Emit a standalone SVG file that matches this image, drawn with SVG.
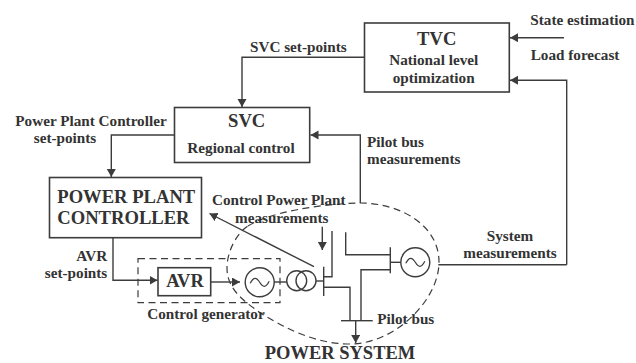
<svg xmlns="http://www.w3.org/2000/svg" width="636" height="363" viewBox="0 0 636 363">
<style>
text{font-family:"Liberation Serif","Times New Roman",serif;font-weight:bold;fill:#333;font-size:15.2px}
.m{text-anchor:middle}
.e{text-anchor:end}
.big{font-size:18.600px}
.h{font-size:18.500px}
.box{fill:#fff;stroke:#3c3c3c;stroke-width:1.6}
.ln{fill:none;stroke:#3c3c3c;stroke-width:1.4}
.ar{marker-end:url(#ah)}
.d{fill:none;stroke:#3c3c3c;stroke-width:1.2;stroke-dasharray:7 4.5}
</style>
<defs>
<marker id="ah" markerUnits="userSpaceOnUse" markerWidth="9" markerHeight="10" refX="8" refY="4.5" orient="auto"><path d="M0,0L8,4.5L0,9Z" fill="#3c3c3c"/></marker>
<path id="sine" d="M-9.500,1C-6,-6 -3,-5 0,0S6,6 9.500,-1" fill="none" stroke="#3c3c3c" stroke-width="1.2"/>
</defs>
<rect width="636" height="363" fill="#fff"/>
<g id="connectors">
<path class="ln ar" d="M364.500,57.300H242V107"/>
<path class="ln ar" d="M564,37.700H510"/>
<path class="ln ar" d="M566.700,264.700V80.300H510"/>
<path class="ln" d="M438.300,264.700H566.700"/>
<path class="ln ar" d="M360.300,203V135H310.500"/>
<path class="ln ar" d="M174.500,135H111.300V177"/>
<path class="ln ar" d="M113,237.700V280.300H157.500"/>
<path class="ln ar" d="M210.700,282H240"/>
<path class="ln" d="M274,282H286.500"/>
<path class="ln" d="M316,281H323.700"/>
<path class="ln ar" d="M314,266.700L209.500,213.500"/>
<path class="ln ar" d="M322.300,226.700V250"/>
<path class="ln" d="M323.700,266.700V296"/>
<path class="ln" d="M323.700,276.700H332V231"/>
<path class="ln" d="M323.700,287.300H350V320.700"/>
<path class="ln" d="M341,320.700H372.700"/>
<path class="ln ar" d="M355.700,320.700V343"/>
<path class="ln" d="M390.300,247.300V273.300"/>
<path class="ln" d="M390.300,254.700H345.700V232.300"/>
<path class="ln" d="M390.300,269.700H361V320.700"/>
<path class="ln" d="M390.300,262.300H401"/>
</g>
<g id="power-system">
<path class="d" d="M248,226C270,212 320,204 360,203C400,203 439,225 439,262C439,300 395,344 350,344C315,344 285,328 262,314C245,302 227,290 227,268C227,250 238,232 248,226Z"/>
<text class="m h" x="340" y="358.800">POWER SYSTEM</text>
</g>
<g id="tvc">
<rect class="box" x="364.500" y="23" width="144.800" height="69"/>
<text class="m big" x="436.700" y="45">TVC</text>
<text class="m" x="433.700" y="65">National level</text>
<text class="m" x="433.700" y="82.700">optimization</text>
</g>
<g id="svc">
<rect class="box" x="174.500" y="107.500" width="135.200" height="55"/>
<text class="m big" x="246.700" y="127.300">SVC</text>
<text class="m" x="241" y="152.700">Regional control</text>
</g>
<g id="power-plant-controller">
<rect class="box" x="49.500" y="177.500" width="152" height="60.200"/>
<text x="57.300" y="203.300" class="big">POWER PLANT</text>
<text x="57.300" y="224" class="big">CONTROLLER</text>
</g>
<g id="control-generator">
<rect class="d" x="138" y="258.700" width="142" height="44"/>
<text x="147.300" y="319.300">Control generator</text>
</g>
<g id="avr">
<rect class="box" x="158" y="267.700" width="52.700" height="28"/>
<text class="m h" x="185" y="287.300">AVR</text>
</g>
<g id="generator-1">
<circle class="ln" cx="259.700" cy="282.300" r="14.500"/>
<use href="#sine" x="259.700" y="282.300"/>
</g>
<g id="transformer">
<circle class="ln" cx="296.700" cy="280.700" r="10"/>
<circle class="ln" cx="306" cy="280.700" r="10"/>
</g>
<g id="generator-2">
<circle class="ln" cx="415.300" cy="262.300" r="14.500"/>
<use href="#sine" x="415.300" y="262.300"/>
</g>
<g id="labels">
<text x="250" y="51.700">SVC set-points</text>
<text x="530.300" y="25">State estimation</text>
<text x="530.700" y="60">Load forecast</text>
<text x="367" y="146.700">Pilot bus</text>
<text x="367" y="164">measurements</text>
<text class="m" x="91" y="126">Power Plant Controller</text>
<text class="m" x="65" y="143">set-points</text>
<text class="e" x="107.300" y="260.700">AVR</text>
<text class="e" x="107.300" y="278">set-points</text>
<text x="212" y="205">Control Power Plant</text>
<text class="m" x="281.700" y="222.700">measurements</text>
<text x="377.300" y="324.300">Pilot bus</text>
<text x="486.700" y="241">System</text>
<text x="463.300" y="258.300">measurements</text>
</g>
</svg>
